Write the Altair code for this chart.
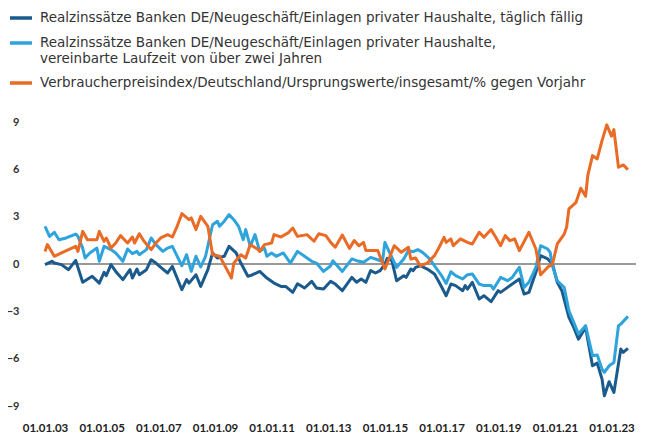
import altair as alt
import pandas as pd

series_names = [
    "Realzinssätze Banken DE/Neugeschäft/Einlagen privater Haushalte, täglich fällig",
    "Realzinssätze Banken DE/Neugeschäft/Einlagen privater Haushalte,|vereinbarte Laufzeit von über zwei Jahren",
    "Verbraucherpreisindex/Deutschland/Ursprungswerte/insgesamt/% gegen Vorjahr",
]
series_colors = ["#1b5a8c", "#2ea3dc", "#e96b25"]

# months since Jan 2003
dark_m = [0,3,4,7,10,13,16,20,23,25,26,28,30,33,36,37,39,40,43,45,47,50,52,54,58,60,61,64,66,69,
          71,73,76,78,81,83,86,88,91,94,97,100,102,105,107,110,113,115,118,121,123,126,130,132,134,136,138,140,142,144,
          145,147,149,152,153,155,156,157,159,162,165,167,170,172,174,177,178,179,181,184,186,189,192,193,196,198,201,203,205,208,
          210,213,215,217,219,222,224,226,229,232,234,236,237,239,241,244,245,247]
dark_v = [-0.04,0.17,0.06,-0.04,-0.36,0.23,-1.16,-0.78,-1.21,-0.53,-0.74,-0.04,-0.47,-0.99,-0.36,-0.89,-0.32,-0.68,-0.36,0.27,
          0.06,-0.32,-0.57,-0.15,-1.63,-0.99,-1.21,-0.68,-1.42,-0.36,0.70,0.38,0.49,1.12,0.70,0.06,-0.78,-0.68,-0.47,-0.89,
          -1.21,-1.42,-1.42,-1.80,-1.25,-1.52,-1.10,-1.52,-1.59,-1.10,-1.27,-1.69,-0.85,-1.16,-0.95,-1.16,-0.42,-0.57,-0.42,0.00,
          0.36,0.21,-1.06,-0.74,-0.85,-0.32,-0.42,-0.21,-0.11,-0.32,-0.63,-1.16,-2.01,-1.27,-1.37,-1.69,-1.37,-1.59,-1.16,-2.22,
          -2.01,-2.39,-1.69,-1.80,-1.48,-1.27,-0.95,-1.90,-1.80,-0.53,0.53,0.32,0.00,-1.16,-1.69,-3.38,-4.02,-4.76,-4.02,-6.45,
          -6.28,-7.29,-8.35,-7.46,-8.14,-5.39,-5.60,-5.35]

light_m = [0,2,4,6,9,13,14,16,17,19,22,23,25,28,30,33,35,37,39,40,43,45,47,50,52,54,58,60,62,64,
           66,68,71,73,74,76,78,80,82,84,85,87,89,91,93,94,96,98,101,104,107,110,113,115,118,121,122,126,130,132,
           135,138,141,143,144,146,149,152,154,156,158,160,163,165,168,170,172,174,177,179,181,184,186,189,190,193,196,198,201,203,
           205,208,210,213,214,215,217,220,222,224,226,229,232,234,236,237,239,241,243,244,247]
light_v = [2.39,1.75,2.01,1.54,1.65,1.90,1.75,1.01,0.38,0.70,1.01,0.17,1.12,0.91,0.70,0.17,0.95,0.66,0.80,0.59,
           0.91,1.65,1.23,0.80,1.01,1.12,-0.11,0.59,-0.47,0.49,-0.19,0.49,2.49,2.71,2.39,2.71,3.13,2.81,2.39,1.54,
           2.18,1.12,1.86,0.80,1.01,0.49,0.70,0.49,0.70,0.06,0.80,0.49,0.17,0.06,-0.47,-0.11,0.21,-0.47,0.32,0.21,
           0.11,0.42,0.27,0.15,1.37,0.74,-0.21,0.32,0.85,0.78,0.91,0.74,0.32,-0.11,-0.74,-1.23,-0.49,-0.74,-0.95,-0.68,
           -0.63,-1.27,-1.37,-1.37,-1.59,-0.85,-1.06,-0.85,-0.21,-1.48,-1.16,-0.21,1.16,0.95,0.74,-0.11,-1.06,-1.48,-2.96,-3.70,
           -4.44,-3.91,-5.81,-5.77,-6.66,-6.87,-6.45,-6.24,-3.91,-3.81,-3.32]

orange_m = [0,1,4,7,10,13,14,16,18,22,23,25,26,28,30,32,35,37,38,40,42,45,47,49,52,54,56,58,61,62,
            64,66,69,71,74,76,79,80,83,85,87,90,91,93,96,97,100,103,105,107,109,111,114,116,119,121,123,126,129,131,
            133,135,136,141,144,148,151,154,155,157,159,162,165,167,169,170,172,173,176,179,181,184,186,189,191,193,195,197,199,201,
            205,208,210,213,215,217,220,221,222,225,227,229,230,232,234,236,238,240,241,243,245,247]
orange_v = [0.80,1.23,0.49,0.70,0.91,1.12,0.80,2.07,1.54,1.54,2.07,1.44,1.65,1.01,1.33,1.80,1.33,1.71,1.33,1.92,
            1.44,0.91,1.33,1.65,1.86,1.71,2.39,3.19,2.81,2.92,2.18,3.02,2.39,0.59,0.49,-0.04,-0.89,0.06,0.59,0.38,
            1.23,0.95,0.80,1.23,1.33,1.86,1.71,1.97,2.28,1.75,1.80,1.86,1.44,1.92,1.80,1.37,1.06,1.84,0.99,1.48,
            1.16,1.37,0.85,0.85,-0.32,1.16,0.74,1.06,0.32,0.38,-0.11,0.06,0.53,1.06,1.69,1.37,1.59,1.16,1.59,1.37,
            1.27,2.01,1.69,2.18,1.69,1.16,1.80,1.48,1.59,0.85,2.01,0.95,-0.68,-0.21,0.00,1.27,1.90,2.33,3.49,3.91,
            4.80,4.29,5.60,6.87,6.66,7.82,8.82,8.10,8.52,6.13,6.28,5.98]

tick_years = [2003, 2005, 2007, 2009, 2011, 2013, 2015, 2017, 2019, 2021, 2023]
y_ticks = [-9, -6, -3, 0, 3, 6, 9]

start = pd.Timestamp("2003-01-01")
rows = []
for name, ms, vs in zip(series_names, [dark_m, light_m, orange_m], [dark_v, light_v, orange_v]):
    for m, v in zip(ms, vs):
        rows.append({"series": name, "date": start + pd.DateOffset(months=m), "value": v})
df = pd.DataFrame(rows)
zero_df = pd.DataFrame({"value": [0]})

FONT = "Lato"
LEGEND_FONT = "DejaVu Sans"

y_scale = alt.Scale(domain=[-9, 9], nice=False, zero=False)
y_axis = alt.Axis(values=y_ticks, title=None, grid=False, domain=False, ticks=False, tickSize=0,
                  labelPadding=26, labelFont=FONT, labelFontSize=11, labelFontWeight="bold",
                  labelColor="#333333")

x_axis = alt.Axis(values=[alt.DateTime(year=y, month=1, date=1) for y in tick_years],
                  format="%d.%m.%y", title=None, grid=False, domain=False, ticks=False, tickSize=0,
                  labelPadding=16, labelFont=FONT, labelFontSize=11.5, labelFontWeight="bold",
                  labelColor="#222222", labelOverlap=False, labelFlush=False)
x_scale = alt.Scale(domain=[alt.DateTime(year=2003, month=1, date=1),
                            alt.DateTime(year=2023, month=11, date=13)])

rule = alt.Chart(zero_df).mark_rule(color="#777777", strokeWidth=1.5).encode(
    y=alt.Y("value:Q", scale=y_scale, axis=y_axis)
)

lines = alt.Chart(df).mark_line(strokeWidth=3, strokeJoin="round").encode(
    x=alt.X("date:T", scale=x_scale, axis=x_axis),
    y=alt.Y("value:Q", scale=y_scale, axis=y_axis),
    color=alt.Color("series:N", scale=alt.Scale(domain=series_names, range=series_colors),
                    legend=alt.Legend(title=None, orient="none", legendX=-37, legendY=-117,
                                      direction="vertical", symbolType="stroke",
                                      symbolStrokeWidth=3.5, symbolSize=484,
                                      labelFont=LEGEND_FONT, labelFontSize=13.5, labelColor="#333333",
                                      labelLimit=700, labelExpr="split(datum.label, '|')",
                                      rowPadding=5, labelOffset=6, padding=0)),
)

chart = alt.layer(rule, lines).properties(
    width=591, height=284,
    autosize=alt.AutoSizeParams(type="none"),
    padding={"left": 37, "top": 114, "right": 6, "bottom": 26},
).configure_view(stroke=None)

chart.save("out.html", embed_options={"renderer": "svg", "actions": False})
